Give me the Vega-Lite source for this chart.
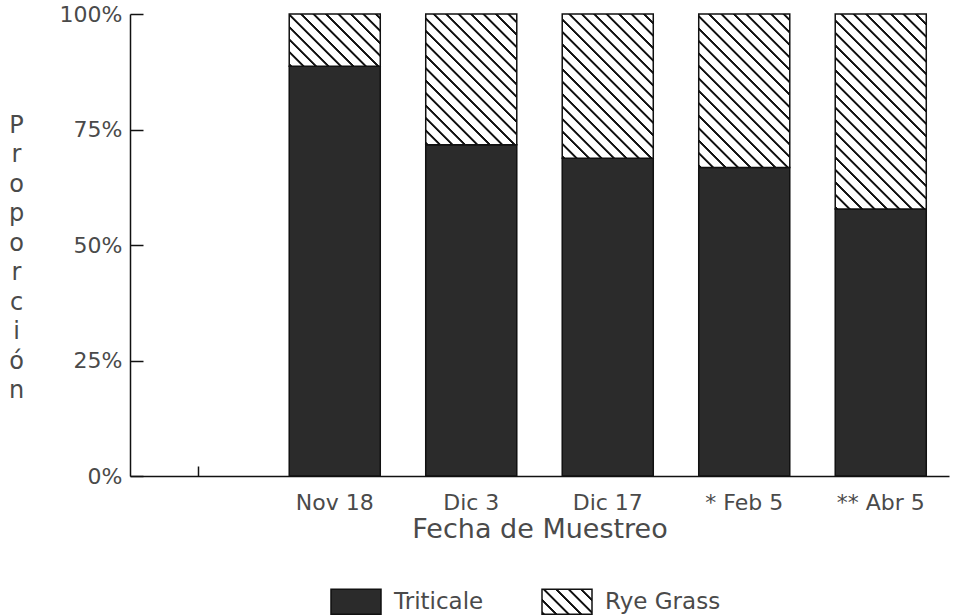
{
  "$schema": "https://vega.github.io/schema/vega-lite/v6.json",
  "width": 819,
  "height": 462,
  "autosize": "none",
  "padding": {"left": 130, "top": 14, "right": 6, "bottom": 140},
  "background": "white",
  "params": [
    {
      "name": "hatch",
      "value": [
        {"offset": 0, "color": "#fff"}, {"offset": 0.003, "color": "#111"}, {"offset": 0.009, "color": "#111"}, {"offset": 0.012, "color": "#fff"},
        {"offset": 0.04, "color": "#fff"}, {"offset": 0.043, "color": "#111"}, {"offset": 0.049, "color": "#111"}, {"offset": 0.052, "color": "#fff"},
        {"offset": 0.08, "color": "#fff"}, {"offset": 0.083, "color": "#111"}, {"offset": 0.089, "color": "#111"}, {"offset": 0.092, "color": "#fff"},
        {"offset": 0.12, "color": "#fff"}, {"offset": 0.123, "color": "#111"}, {"offset": 0.129, "color": "#111"}, {"offset": 0.132, "color": "#fff"},
        {"offset": 0.16, "color": "#fff"}, {"offset": 0.163, "color": "#111"}, {"offset": 0.169, "color": "#111"}, {"offset": 0.172, "color": "#fff"},
        {"offset": 0.2, "color": "#fff"}, {"offset": 0.203, "color": "#111"}, {"offset": 0.209, "color": "#111"}, {"offset": 0.212, "color": "#fff"},
        {"offset": 0.24, "color": "#fff"}, {"offset": 0.243, "color": "#111"}, {"offset": 0.249, "color": "#111"}, {"offset": 0.252, "color": "#fff"},
        {"offset": 0.28, "color": "#fff"}, {"offset": 0.283, "color": "#111"}, {"offset": 0.289, "color": "#111"}, {"offset": 0.292, "color": "#fff"},
        {"offset": 0.32, "color": "#fff"}, {"offset": 0.323, "color": "#111"}, {"offset": 0.329, "color": "#111"}, {"offset": 0.332, "color": "#fff"},
        {"offset": 0.36, "color": "#fff"}, {"offset": 0.363, "color": "#111"}, {"offset": 0.369, "color": "#111"}, {"offset": 0.372, "color": "#fff"},
        {"offset": 0.4, "color": "#fff"}, {"offset": 0.403, "color": "#111"}, {"offset": 0.409, "color": "#111"}, {"offset": 0.412, "color": "#fff"},
        {"offset": 0.44, "color": "#fff"}, {"offset": 0.443, "color": "#111"}, {"offset": 0.449, "color": "#111"}, {"offset": 0.452, "color": "#fff"},
        {"offset": 0.48, "color": "#fff"}, {"offset": 0.483, "color": "#111"}, {"offset": 0.489, "color": "#111"}, {"offset": 0.492, "color": "#fff"},
        {"offset": 0.52, "color": "#fff"}, {"offset": 0.523, "color": "#111"}, {"offset": 0.529, "color": "#111"}, {"offset": 0.532, "color": "#fff"},
        {"offset": 0.56, "color": "#fff"}, {"offset": 0.563, "color": "#111"}, {"offset": 0.569, "color": "#111"}, {"offset": 0.572, "color": "#fff"},
        {"offset": 0.6, "color": "#fff"}, {"offset": 0.603, "color": "#111"}, {"offset": 0.609, "color": "#111"}, {"offset": 0.612, "color": "#fff"},
        {"offset": 0.64, "color": "#fff"}, {"offset": 0.643, "color": "#111"}, {"offset": 0.649, "color": "#111"}, {"offset": 0.652, "color": "#fff"},
        {"offset": 0.68, "color": "#fff"}, {"offset": 0.683, "color": "#111"}, {"offset": 0.689, "color": "#111"}, {"offset": 0.692, "color": "#fff"},
        {"offset": 0.72, "color": "#fff"}, {"offset": 0.723, "color": "#111"}, {"offset": 0.729, "color": "#111"}, {"offset": 0.732, "color": "#fff"},
        {"offset": 0.76, "color": "#fff"}, {"offset": 0.763, "color": "#111"}, {"offset": 0.769, "color": "#111"}, {"offset": 0.772, "color": "#fff"},
        {"offset": 0.8, "color": "#fff"}, {"offset": 0.803, "color": "#111"}, {"offset": 0.809, "color": "#111"}, {"offset": 0.812, "color": "#fff"},
        {"offset": 0.84, "color": "#fff"}, {"offset": 0.843, "color": "#111"}, {"offset": 0.849, "color": "#111"}, {"offset": 0.852, "color": "#fff"},
        {"offset": 0.88, "color": "#fff"}, {"offset": 0.883, "color": "#111"}, {"offset": 0.889, "color": "#111"}, {"offset": 0.892, "color": "#fff"},
        {"offset": 0.92, "color": "#fff"}, {"offset": 0.923, "color": "#111"}, {"offset": 0.929, "color": "#111"}, {"offset": 0.932, "color": "#fff"},
        {"offset": 0.96, "color": "#fff"}, {"offset": 0.963, "color": "#111"}, {"offset": 0.969, "color": "#111"}, {"offset": 0.972, "color": "#fff"}
      ]
    }
  ],
  "data": {
    "values": [
      {"fecha": "Nov 18", "especie": "Triticale", "pct": 0.887},
      {"fecha": "Nov 18", "especie": "Rye Grass", "pct": 0.113},
      {"fecha": "Dic 3", "especie": "Triticale", "pct": 0.717},
      {"fecha": "Dic 3", "especie": "Rye Grass", "pct": 0.283},
      {"fecha": "Dic 17", "especie": "Triticale", "pct": 0.688},
      {"fecha": "Dic 17", "especie": "Rye Grass", "pct": 0.312},
      {"fecha": "* Feb 5", "especie": "Triticale", "pct": 0.668},
      {"fecha": "* Feb 5", "especie": "Rye Grass", "pct": 0.332},
      {"fecha": "** Abr 5", "especie": "Triticale", "pct": 0.578},
      {"fecha": "** Abr 5", "especie": "Rye Grass", "pct": 0.422}
    ]
  },
  "mark": {"type": "bar", "stroke": "#111", "strokeWidth": 1.5},
  "encoding": {
    "x": {
      "field": "fecha",
      "type": "nominal",
      "sort": null,
      "scale": {
        "domain": ["", "Nov 18", "Dic 3", "Dic 17", "* Feb 5", "** Abr 5"],
        "paddingInner": 0.333,
        "paddingOuter": 0.1665
      },
      "axis": {
        "title": "Fecha de Muestreo",
        "titleFontSize": 27,
        "titleY": 40,
        "titleBaseline": "top",
        "labelAngle": 0,
        "labelFontSize": 22,
        "labelPadding": 26,
        "tickSize": -10,
        "grid": false
      }
    },
    "y": {
      "field": "pct",
      "type": "quantitative",
      "stack": "zero",
      "scale": {"domain": [0, 1]},
      "axis": {
        "title": ["P", "r", "o", "p", "o", "r", "c", "i", "ó", "n"],
        "titleAngle": 0,
        "titleX": -114,
        "titleY": 111,
        "titleAlign": "center",
        "titleBaseline": "middle",
        "titleLineHeight": 29.5,
        "titleFontSize": 24,
        "values": [0, 0.25, 0.5, 0.75, 1],
        "format": ".0%",
        "labelFontSize": 22,
        "labelPadding": 21,
        "tickSize": -13,
        "grid": false
      }
    },
    "order": {"field": "especie", "sort": "descending"},
    "fill": {
      "field": "especie",
      "type": "nominal",
      "scale": {
        "domain": ["Triticale", "Rye Grass"],
        "range": ["#2b2b2b", {"expr": "{gradient: 'linear', x1: 0, y1: 1, x2: 4.978, y2: -1.489, stops: hatch}"}]
      },
      "condition": {
        "test": "datum.especie === 'Rye Grass'",
        "value": {
          "expr": "{gradient: 'linear', x1: 0, y1: 1, x2: 311.13 * bandwidth('x') / (bandwidth('x') * bandwidth('x') + pow(scale('y', datum.pct_start) - scale('y', datum.pct_end), 2)), y2: 1 - 311.13 * (scale('y', datum.pct_start) - scale('y', datum.pct_end)) / (bandwidth('x') * bandwidth('x') + pow(scale('y', datum.pct_start) - scale('y', datum.pct_end), 2)), stops: hatch}"
        }
      },
      "legend": {
        "orient": "none",
        "legendX": 200,
        "legendY": 561.5,
        "direction": "horizontal",
        "title": null,
        "padding": 0,
        "symbolType": "M-1,-0.5H1V0.5H-1Z",
        "symbolSize": 2500,
        "symbolStrokeWidth": 1.5,
        "symbolStrokeColor": "#111",
        "symbolOpacity": 1,
        "labelFontSize": 23,
        "labelOffset": 12,
        "columnPadding": 55
      }
    }
  },
  "config": {
    "view": {"stroke": null},
    "font": "DejaVu Sans",
    "axis": {
      "labelFont": "DejaVu Sans",
      "labelColor": "#4a4a4a",
      "titleFont": "DejaVu Sans",
      "titleFontWeight": "normal",
      "titleColor": "#4a4a4a",
      "domainColor": "#111",
      "domainWidth": 1.5,
      "tickColor": "#111",
      "tickWidth": 1.5
    },
    "legend": {
      "labelFont": "DejaVu Sans",
      "labelColor": "#4a4a4a"
    }
  }
}
